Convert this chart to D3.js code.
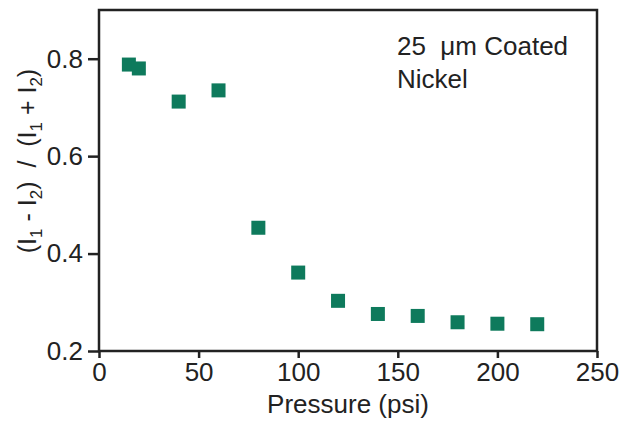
<!DOCTYPE html>
<html lang="en">
<head>
  <meta charset="UTF-8">
  <title>Coated Nickel</title>
  <script src="https://d3js.org/d3.v7.min.js"></script>
  <style>
    body
    {
      margin: 0;
      background-color: #fff;
    }

    svg
    {
      font-family: "Liberation Sans", Arial, sans-serif;
      display: block;
    }

    text
    {
      white-space: pre;
    }
  </style>
</head>
<body>
  <svg width="626" height="421"></svg>
  <script>
    const pressure = [15, 20, 40, 60, 80, 100, 120, 140, 160, 180, 200, 220];
    const ratio = [0.788, 0.780, 0.712, 0.735, 0.453, 0.361, 0.303, 0.276, 0.272, 0.259, 0.256, 0.255];
    const xTicks = [0, 50, 100, 150, 200, 250];
    const yTicks = [0.2, 0.4, 0.6, 0.8];
    const noteLines = ["25  \u03bcm Coated", "Nickel"];

    const width = 626;
    const height = 421;
    const margin = { top: 10, right: 29, bottom: 70, left: 99 };
    const ink = "#222";

    const svg = d3.select("svg");

    const x = d3.scaleLinear()
      .domain([0, 250])
      .range([margin.left, width - margin.right]);

    const y = d3.scaleLinear()
      .domain([0.2, 0.9])
      .range([height - margin.bottom, margin.top]);

    //axes
    const xAxis = svg.append("g")
      .attr("transform", `translate(0,${height - margin.bottom})`)
      .call(d3.axisBottom(x).tickValues(xTicks).tickSize(7).tickPadding(5).tickSizeOuter(0));

    const yAxis = svg.append("g")
      .attr("transform", `translate(${margin.left},0)`)
      .call(d3.axisLeft(y).tickValues(yTicks).tickFormat(d3.format(".1f")).tickSize(11).tickPadding(5).tickSizeOuter(0));

    [xAxis, yAxis].forEach(g => {
      g.select(".domain").remove();
      g.selectAll(".tick line").attr("stroke", ink).attr("stroke-width", 2.5);
      g.selectAll(".tick text")
        .attr("fill", ink)
        .style("font-size", "26px")
        .style("font-family", "'Liberation Sans', Arial, sans-serif");
    });

    //frame
    svg.append("rect")
      .attr("x", x(0))
      .attr("y", y(0.9))
      .attr("width", x(250) - x(0))
      .attr("height", y(0.2) - y(0.9))
      .attr("fill", "none")
      .attr("stroke", ink)
      .attr("stroke-width", 2.5);

    //points
    const size = 14;
    svg.append("g")
      .selectAll("rect")
      .data(pressure.map((p, i) => ({ p, r: ratio[i] })))
      .join("rect")
      .attr("x", d => x(d.p) - size / 2)
      .attr("y", d => y(d.r) - size / 2)
      .attr("width", size)
      .attr("height", size)
      .attr("fill", "#0e7a5c");

    //x title
    svg.append("text")
      .attr("x", (x(0) + x(250)) / 2 + 0)
      .attr("y", 413)
      .attr("text-anchor", "middle")
      .attr("fill", ink)
      .style("font-size", "26px")
      .text("Pressure (psi)");

    //y title with subscripts
    const yTitle = svg.append("text")
      .attr("transform", "translate(36,161) rotate(-90)")
      .attr("text-anchor", "middle")
      .attr("fill", ink)
      .style("font-size", "25px");

    const parts = [
      ["(I", false], ["1", true], [" - I", false], ["2", true],
      [")  /  (I", false], ["1", true], [" + I", false], ["2", true], [")", false]
    ];
    parts.forEach(([t, sub]) => {
      yTitle.append("tspan")
        .attr("baseline-shift", sub ? "-35%" : null)
        .style("font-size", sub ? "17px" : null)
        .text(t);
    });

    //note
    svg.append("g")
      .selectAll("text")
      .data(noteLines)
      .join("text")
      .attr("x", 397)
      .attr("y", (d, i) => 55 + i * 33)
      .attr("fill", ink)
      .style("font-size", "26px")
      .text(d => d);
  </script>
</body>
</html>
